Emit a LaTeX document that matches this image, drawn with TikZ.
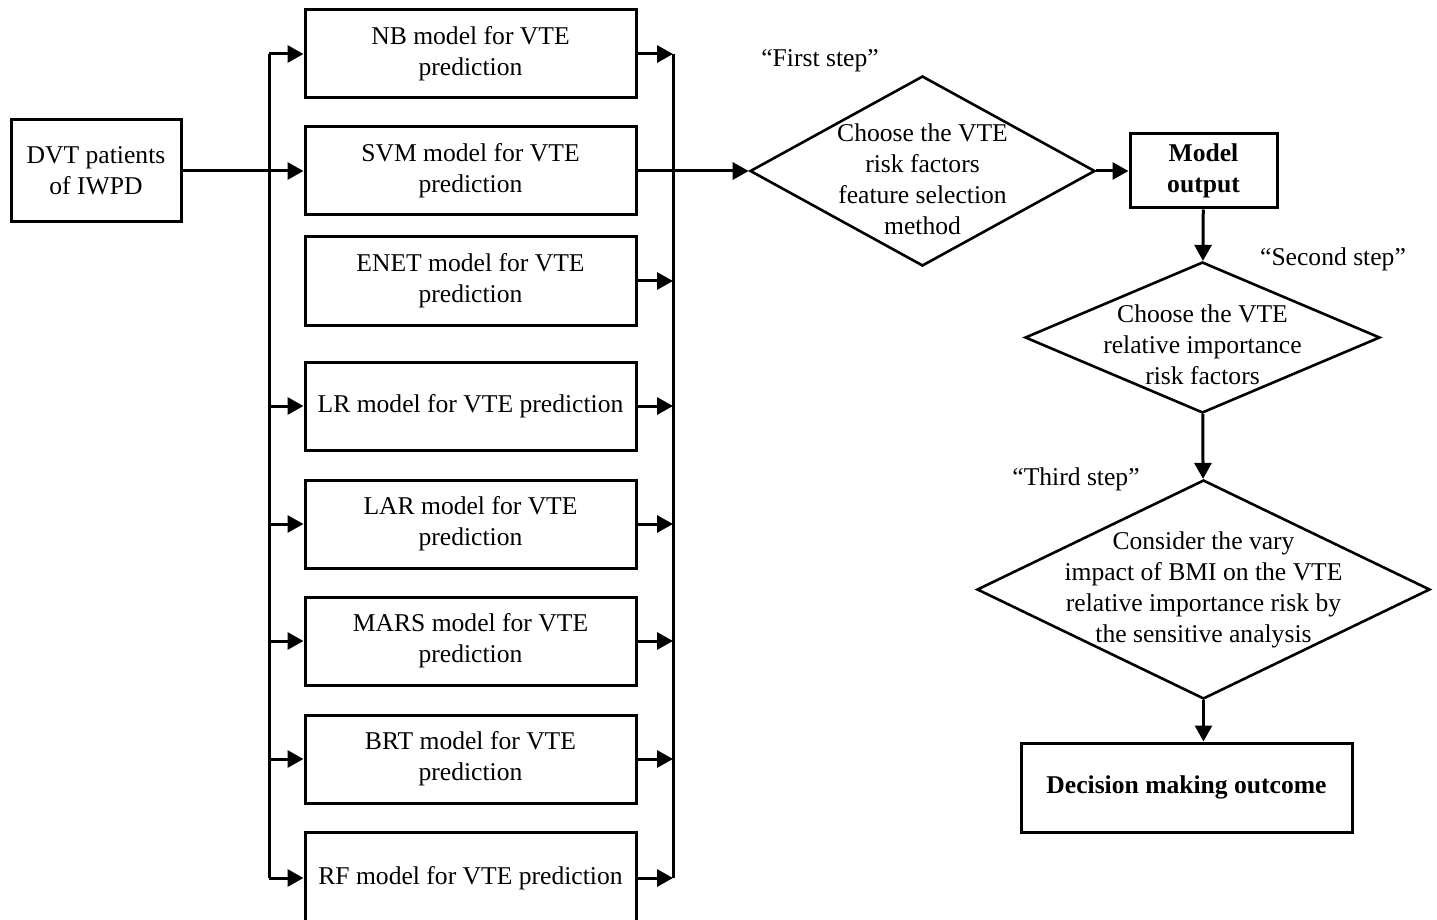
\documentclass[tikz,border=0pt]{standalone}
\usepackage{fontspec}
\setmainfont{Liberation Serif}
\usepackage{tikz}
\usetikzlibrary{
    arrows.meta,
    positioning,
    shapes.geometric
}
\newcommand{\diagfont}{\fontsize{12.8pt}{15.5pt}\selectfont}

\begin{document}
\begin{tikzpicture}[
        x=0.5pt, y=-0.5pt,
        >={Triangle[length=8pt,width=8.5pt]},
        line width=1.5pt,
        every node/.style={font=\diagfont},
        box/.style={
            rectangle,
            draw,
            align=center,
            inner sep=0pt,
            minimum width=165.5pt,
            minimum height=44pt
        },
        boldbox/.style={
            box,
            font=\diagfont\bfseries
        },
        decision/.style={
            diamond,
            draw,
            line width=1.3pt,
            inner sep=0pt
        }
    ]
        \useasboundingbox (0,0) rectangle (1437,920);

        % input and the eight models
        \node[box, minimum width=85pt, minimum height=51pt] (dvt) at (96,171) {DVT patients\\of IWPD};
        \node[box] (nb) at (470.5,54) {NB model for VTE\\prediction};
        \node[box] (svm) at (470.5,171) {SVM model for VTE\\prediction};
        \node[box] (enet) at (470.5,281) {ENET model for VTE\\prediction};
        \node[box] (lr) at (470.5,406) {LR model for VTE prediction};
        \node[box] (lar) at (470.5,524) {LAR model for VTE\\prediction};
        \node[box] (mars) at (470.5,641) {MARS model for VTE\\prediction};
        \node[box] (brt) at (470.5,759) {BRT model for VTE\\prediction};
        \node[box, minimum height=46pt] (rf) at (470.5,878) {RF model for VTE prediction};

        \coordinate (lbus) at (269,0);
        \coordinate (rbus) at (673,0);
        \draw (lbus |- nb.west) -- (lbus |- rf.west);
        \draw (rbus |- nb.east) -- (rbus |- rf.east);

        \draw[->] (dvt) -- (svm);
        \foreach \m in {nb,lr,lar,mars,brt,rf}
            \draw[->] (lbus |- \m.west) -- (\m.west);
        \foreach \m in {nb,enet,lr,lar,mars,brt,rf}
            \draw[->] (\m.east) -- (rbus |- \m.east);

        % the three steps
        \node[decision, minimum width=172.5pt, minimum height=95pt,
            label={[align=center, yshift=-4pt]center:Choose the VTE\\risk factors\\feature selection\\method}]
            (choose) at (922.5,171) {};
        \node[boldbox, minimum width=73.5pt, minimum height=37pt] (output) at (1203.5,171) {Model\\output};
        \node[decision, minimum width=177.5pt, minimum height=75.5pt,
            label={[align=center, yshift=-3.5pt]center:Choose the VTE\\relative importance\\risk factors}]
            (relative) at (1202.5,337.5) {};
        \node[decision, minimum width=226.5pt, minimum height=109.5pt,
            label={[align=center]center:Consider the vary\\impact of BMI on the VTE\\relative importance risk by\\the sensitive analysis}]
            (consider) at (1203.5,589.5) {};
        \node[boldbox, minimum height=44.5pt] (outcome) at (1186.5,787.5) {Decision making outcome};

        \node (first) at (820,61) {“First step”};
        \node (second) at (1333,259) {“Second step”};
        \node (third) at (1076,479) {“Third step”};

        \draw[->] (svm) -- (choose);
        \draw[->] (choose) -- (output);
        \draw[->] (output) -- (relative);
        \draw[->] (relative) -- (consider);
        \draw[->] (consider) -- (consider |- outcome.north);
    \end{tikzpicture}
\end{document}
